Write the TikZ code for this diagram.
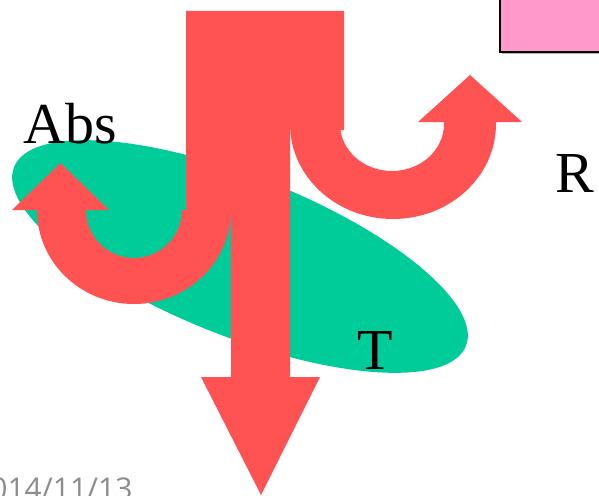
\documentclass[tikz,border=0pt]{standalone}
\usepackage{fontspec}
\setmainfont{Liberation Serif}
\newfontfamily\datefont{Open Sans}
\definecolor{arrowred}{RGB}{255,82,82}
\definecolor{ellgreen}{RGB}{0,204,153}
\definecolor{boxpink}{RGB}{255,153,204}
\definecolor{dategray}{RGB}{140,140,140}
\begin{document}
\begin{tikzpicture}[x=1pt,y=-1pt,
  flow/.style={fill=arrowred},
  label/.style={inner sep=0pt,anchor=base west,font=\fontsize{58}{60}\selectfont},
  datestyle/.style={inner sep=0pt,anchor=base west,text=dategray,font=\datefont\fontsize{30}{32}\selectfont}]
\useasboundingbox (0,0) rectangle (599,495);
\clip (0,0) rectangle (599,495);
% pink box (top right)
\fill[gray!60] (502,-5) rectangle (606,54);
\fill[boxpink,draw=black,line width=1.5pt] (500,-5) rectangle (605,52);
% green ellipse
\fill[ellgreen,shift={(240,256.5)},rotate=-21.6] (0,0) ellipse [x radius=243, y radius=80];
% downward arrow (T)
\fill[flow] (231,11) -- (290,11) -- (290,377) -- (320,377) -- (261,495) -- (201,377) -- (231,377) -- cycle;
% left U-turn arrow (Abs)
\fill[flow] (186,11) -- (231,11) -- (231,210)
  arc[start angle=0,end angle=180,x radius=97,y radius=94]
  -- (12,210) -- (60.5,163) -- (109,210) -- (86,210)
  arc[start angle=180,end angle=0,x radius=48,y radius=48]
  -- (186,210) -- cycle;
% right U-turn arrow (R)
\fill[flow] (290,11) -- (344,11) -- (344,130) -- (340,130) -- (340,124)
  arc[start angle=180,end angle=0,x radius=52,y radius=47]
  -- (444,122) -- (418,122) -- (470,75) -- (522,122) -- (496,122) -- (496,124)
  arc[start angle=0,end angle=180,x radius=103,y radius=95]
  -- cycle;
% labels
\node[label] (abs) at (23,143) {Abs};
\node[label] (r) at (555,192) {R};
\node[label] (t) at (357,369) {T};
\node[datestyle] (date) at (-27,499) {2014/11/13};
\end{tikzpicture}
\end{document}
